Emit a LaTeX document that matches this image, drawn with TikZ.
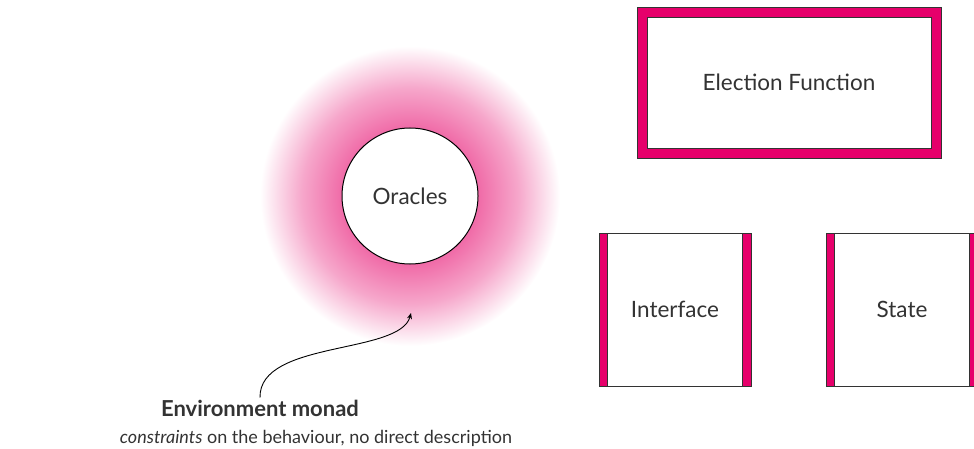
\documentclass[tikz,border=0pt]{standalone}
\usepackage{fontspec}
\setmainfont{Lato}
\usepackage{tikz}
\usetikzlibrary{arrows.meta,positioning,shapes.geometric}

\definecolor{framepink}{HTML}{E6006B}
\definecolor{glowpink}{HTML}{F06CA8}
\definecolor{ink}{HTML}{333333}
\pgfdeclareradialshading{glow}{\pgfpoint{0bp}{0bp}}{%
  color(0bp)=(glowpink); color(11.5bp)=(glowpink);
  color(18bp)=(glowpink!60!white); color(25bp)=(white); color(50bp)=(white)}

\tikzset{
  frame/.style={rectangle,draw=black!80,fill=framepink,line width=0.8pt,inner sep=0pt},
  panel/.style={rectangle,draw=black!80,fill=white,line width=0.8pt,inner sep=0pt,
    text=ink,font=\fontsize{22.5}{27}\selectfont},
  oracle/.style={circle,draw=black,fill=white,line width=1pt,minimum size=136pt,
    text=ink,font=\fontsize{22.5}{27}\selectfont},
  caption/.style={text=ink,font=\fontsize{18}{22}\selectfont,inner sep=2pt}
}

\begin{document}
\begin{tikzpicture}[x=1pt,y=-1pt]
\useasboundingbox (0,0) rectangle (974,449);

% glow around the oracles
\shade[shading=glow] (410,196) circle (150);
\node[oracle] (oracles) at (410,196) {Oracles};

% election function
\node[frame,minimum width=304pt,minimum height=151pt] (efframe) at (789,82.5) {};
\node[panel,minimum width=284pt,minimum height=131pt] (ef) at (efframe) {Election Function};

% interface and state
\foreach \nm/\x/\txt in {if/675/Interface,st/902/State} {
  \node[frame,minimum width=152pt,minimum height=153pt] (\nm frame) at (\x,309.5) {};
  \node[panel,minimum width=135pt,minimum height=153pt] (\nm) at (\nm frame) {\txt};
}

% caption with arrow into the glow
\node[caption,font=\fontsize{22}{26}\selectfont\bfseries] (env) at (260,408) {Environment monad};
\node[caption] (desc) at (316,438) {\textit{constraints} on the behaviour, no direct description};
\coordinate (envtip) at (411,313);
\draw[-{Stealth[length=6pt,width=5pt]},line width=0.9pt] (env.north) .. controls (259,340) and (400,355) .. (envtip);
\end{tikzpicture}
\end{document}
